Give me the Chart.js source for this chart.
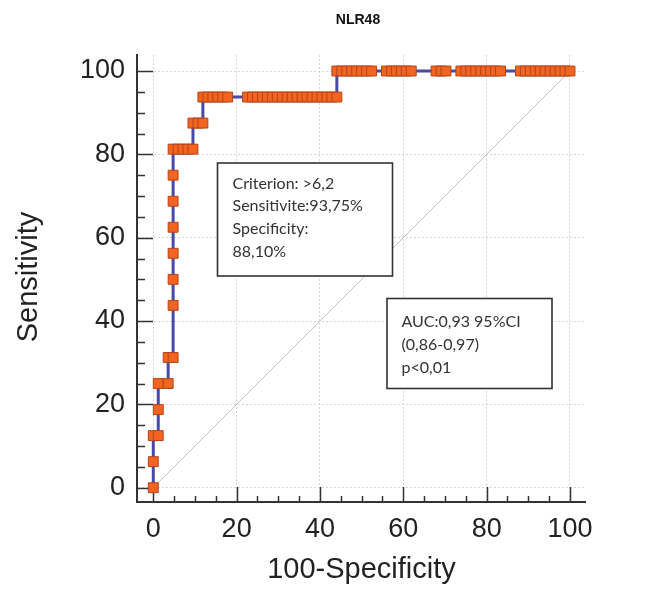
<!DOCTYPE html>
<html><head><meta charset="utf-8">
<script src="https://cdn.jsdelivr.net/npm/chart.js@4.4.1/dist/chart.umd.min.js"></script>
<style>html,body{margin:0;padding:0;background:#fff}canvas{display:block}</style>
</head><body>
<canvas id="c" width="670" height="599"></canvas>
<script>
// ---- data ----
const chartTitle = 'NLR48';
const xAxisTitle = '100-Specificity';
const yAxisTitle = 'Sensitivity';

// ROC curve points (100-Specificity, Sensitivity)
const rocFpr = [
  0, 0, 0, 1.19, 1.19, 1.19, 3.57, 3.57,
  4.76, 4.76, 4.76, 4.76, 4.76, 4.76, 4.76, 4.76,
  5.95, 7.14, 8.33, 9.52, 9.52, 10.71, 11.90, 11.90,
  13.10, 14.29, 15.48, 16.67, 17.86,
  22.62, 23.81, 25.00, 26.19, 27.38, 28.57, 29.76, 30.95, 32.14, 33.33,
  34.52, 35.71, 36.90, 38.10, 39.29, 40.48, 41.67, 42.86, 44.05,
  44.05, 45.24, 46.43, 47.62, 48.81, 50.00, 51.19, 52.38,
  55.95, 57.14, 58.33, 59.52, 60.71, 61.90,
  67.86, 69.05, 70.24,
  73.81, 75.00, 76.19, 77.38, 78.57, 79.76, 80.95, 82.14, 83.33,
  88.10, 89.29, 90.48, 91.67, 92.86, 94.05, 95.24, 96.43, 97.62, 98.81, 100
];
const rocTpr = [
  0, 6.25, 12.5, 12.5, 18.75, 25, 25, 31.25,
  31.25, 43.75, 50, 56.25, 62.5, 68.75, 75, 81.25,
  81.25, 81.25, 81.25, 81.25, 87.5, 87.5, 87.5, 93.75,
  93.75, 93.75, 93.75, 93.75, 93.75,
  93.75, 93.75, 93.75, 93.75, 93.75, 93.75, 93.75, 93.75, 93.75, 93.75,
  93.75, 93.75, 93.75, 93.75, 93.75, 93.75, 93.75, 93.75, 93.75,
  100, 100, 100, 100, 100, 100, 100, 100,
  100, 100, 100, 100, 100, 100,
  100, 100, 100,
  100, 100, 100, 100, 100, 100, 100, 100, 100,
  100, 100, 100, 100, 100, 100, 100, 100, 100, 100, 100
];
const refLineX = [0, 100];
const refLineY = [0, 100];

const majorTicks = [0, 20, 40, 60, 80, 100];
const minorTicks = [0, 5, 10, 15, 20, 25, 30, 35, 40, 45, 50, 55, 60, 65, 70, 75, 80, 85, 90, 95, 100];

const criterionLines = ['Criterion: >6,2', 'Sensitivite:93,75%', 'Specificity:', '88,10%'];
const aucLines = ['AUC:0,93 95%CI', '(0,86-0,97)', 'p<0,01'];

// ---- chart ----
const rocPoints = rocFpr.map((x, i) => ({x: x, y: rocTpr[i]}));
const refPoints = refLineX.map((x, i) => ({x: x, y: refLineY[i]}));

const decor = {
  id: 'decor',
  beforeDatasetsDraw(chart) {
    const ctx = chart.ctx;
    const xs = chart.scales.x, ys = chart.scales.y;
    const ca = chart.chartArea;
    ctx.save();
    ctx.strokeStyle = '#333';
    ctx.lineWidth = 1.5;
    minorTicks.forEach(v => {
      const major = majorTicks.includes(v);
      const px = Math.round(xs.getPixelForValue(v)) + 0.5;
      ctx.beginPath();
      ctx.moveTo(px, ca.bottom);
      ctx.lineTo(px, ca.bottom - (major ? 15 : 6));
      ctx.stroke();
      const py = Math.round(ys.getPixelForValue(v)) + 0.5;
      ctx.beginPath();
      ctx.moveTo(ca.left, py);
      ctx.lineTo(ca.left + (major ? 16 : 8), py);
      ctx.stroke();
    });
    ctx.restore();
  },
  afterDatasetsDraw(chart) {
    const ctx = chart.ctx;
    ctx.save();
    function box(x, y, w, h) {
      ctx.fillStyle = '#fff';
      ctx.fillRect(x, y, w, h);
      ctx.strokeStyle = '#333';
      ctx.lineWidth = 1.6;
      ctx.strokeRect(x, y, w, h);
    }
    box(217.5, 163, 175, 113);
    box(387, 298.5, 165, 90);
    ctx.fillStyle = '#333';
    ctx.font = '16px Lato, "Open Sans", sans-serif';
    ctx.textAlign = 'left';
    ctx.textBaseline = 'alphabetic';
    criterionLines.forEach((t, i) => ctx.fillText(t, 232.5, 188.5 + i * 22.8));
    aucLines.forEach((t, i) => ctx.fillText(t, 401.5, 327 + i * 23));

    // chart title
    ctx.fillStyle = '#111';
    ctx.font = 'bold 14px "Liberation Sans Narrow", "Liberation Sans", Arial, sans-serif';
    ctx.textAlign = 'center';
    ctx.textBaseline = 'middle';
    ctx.fillText(chartTitle, 358, 20);

    // axis titles
    ctx.fillStyle = '#222';
    ctx.font = '29px "Liberation Sans", Arial, sans-serif';
    ctx.textAlign = 'center';
    ctx.textBaseline = 'alphabetic';
    ctx.fillText(xAxisTitle, 361.5, 578);
    ctx.save();
    ctx.translate(37, 277);
    ctx.rotate(-Math.PI / 2);
    ctx.fillText(yAxisTitle, 0, 0);
    ctx.restore();
    ctx.restore();
  }
};

new Chart(document.getElementById('c'), {
  type: 'scatter',
  data: {
    datasets: [
      {
        label: 'ROC',
        data: rocPoints,
        showLine: true,
        borderColor: '#4a4aa6',
        borderWidth: 3,
        pointStyle: 'rect',
        pointRadius: 7,
        pointHoverRadius: 7,
        pointBackgroundColor: '#f2641f',
        pointBorderColor: '#b2451a',
        pointBorderWidth: 1,
        clip: false
      },
      {
        label: 'Reference',
        data: refPoints,
        showLine: true,
        borderColor: '#c4c4c4',
        borderWidth: 1,
        pointRadius: 0,
        clip: false
      }
    ]
  },
  options: {
    responsive: false,
    animation: false,
    devicePixelRatio: 1,
    layout: {padding: {top: 55, right: 85, left: 0, bottom: 0}},
    plugins: {legend: {display: false}, tooltip: {enabled: false}, title: {display: false}},
    scales: {
      x: {
        type: 'linear',
        min: -3.91,
        max: 103.6,
        afterBuildTicks(s) { s.ticks = majorTicks.map(v => ({value: v})); },
        afterFit(s) { s.height = 97; },
        ticks: {
          font: {family: '"Liberation Sans", Arial, sans-serif', size: 27},
          color: '#222',
          padding: 11,
          maxRotation: 0
        },
        grid: {color: '#d6d6d6', lineWidth: 1, drawTicks: false},
        border: {display: true, color: '#333', width: 2, dash: [2, 2]}
      },
      y: {
        type: 'linear',
        min: -3.43,
        max: 103.84,
        afterBuildTicks(s) { s.ticks = majorTicks.map(v => ({value: v})); },
        afterFit(s) { s.width = 137; },
        ticks: {
          font: {family: '"Liberation Sans", Arial, sans-serif', size: 27},
          color: '#222',
          padding: 12
        },
        grid: {color: '#d6d6d6', lineWidth: 1, drawTicks: false},
        border: {display: true, color: '#333', width: 2, dash: [2, 2]}
      }
    }
  },
  plugins: [decor]
});
</script>
</body></html>
